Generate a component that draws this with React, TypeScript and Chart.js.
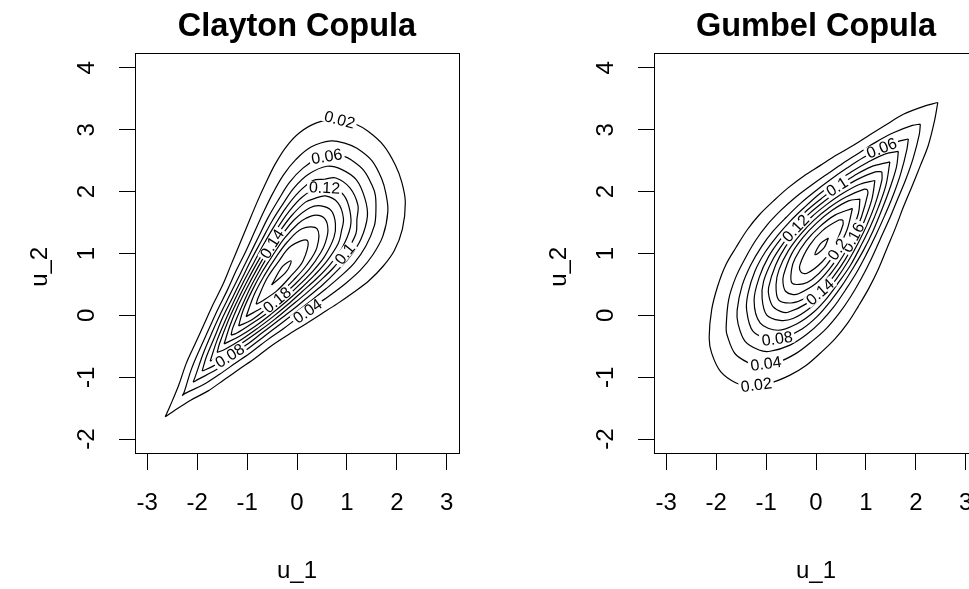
import React, { useEffect, useRef } from 'react';
import { Chart, registerables } from 'chart.js';

Chart.register(...registerables);

const FONT = "'Liberation Sans', Arial, Helvetica, sans-serif";

// Axes
const X_TICKS = [-3, -2, -1, 0, 1, 2, 3];
const Y_TICKS = [-2, -1, 0, 1, 2, 3, 4];
const X_RANGE = [-3.245, 3.245];
const Y_RANGE = [-2.24, 4.24];

// Contour levels (density)
const LEVELS = [0.02, 0.04, 0.06, 0.08, 0.1, 0.12, 0.14, 0.16, 0.18, 0.2, 0.22, 0.24];

// ---- Clayton copula: contour polylines [u_1, u_2] ----
const clayton002 = [
  [-2.64, -1.64], [-2.46, -1.54], [-2.13, -1.37], [-1.78, -1.22], [-1.46, -1.04], [-1.14, -0.86],
  [-0.82, -0.68], [-0.51, -0.49], [-0.19, -0.32], [0.15, -0.15], [0.48, 0.02], [0.81, 0.19],
  [1.13, 0.37], [1.44, 0.56], [1.72, 0.79], [1.95, 1.05], [2.11, 1.39], [2.17, 1.83], [2.1, 2.15],
  [1.97, 2.43], [1.74, 2.74], [1.43, 2.97], [1.15, 3.1], [0.83, 3.17], [0.39, 3.11], [0.05, 2.95],
  [-0.22, 2.72], [-0.44, 2.44], [-0.63, 2.13], [-0.81, 1.81], [-0.98, 1.48], [-1.15, 1.15],
  [-1.32, 0.82], [-1.49, 0.49], [-1.68, 0.18], [-1.86, -0.14], [-2.04, -0.46], [-2.22, -0.78],
  [-2.37, -1.13], [-2.54, -1.46], [-2.64, -1.64],
];
const clayton004 = [
  [-2.3, -1.3], [-2.24, -1.26], [-1.88, -1.12], [-1.55, -0.95], [-1.23, -0.77], [-0.91, -0.59],
  [-0.6, -0.4], [-0.28, -0.22], [0.03, -0.03], [0.35, 0.15], [0.67, 0.33], [0.98, 0.52], [1.27, 0.73],
  [1.52, 0.98], [1.72, 1.28], [1.82, 1.68], [1.78, 1.97], [1.7, 2.2], [1.5, 2.5], [1.2, 2.7],
  [0.97, 2.78], [0.68, 2.82], [0.28, 2.72], [-0.02, 2.52], [-0.27, 2.27], [-0.48, 1.98],
  [-0.67, 1.67], [-0.85, 1.35], [-1.03, 1.03], [-1.22, 0.72], [-1.4, 0.4], [-1.59, 0.09],
  [-1.77, -0.23], [-1.95, -0.55], [-2.12, -0.88], [-2.26, -1.24], [-2.3, -1.3],
];
const clayton006 = [
  [-2.08, -1.08], [-1.97, -1.03], [-1.62, -0.88], [-1.29, -0.71], [-0.97, -0.53], [-0.66, -0.34],
  [-0.35, -0.15], [-0.04, 0.04], [0.27, 0.23], [0.58, 0.43], [0.87, 0.63], [1.15, 0.85], [1.38, 1.12],
  [1.55, 1.45], [1.58, 1.67], [1.57, 1.94], [1.51, 2.09], [1.34, 2.34], [1.09, 2.51], [0.94, 2.57],
  [0.67, 2.58], [0.45, 2.55], [0.12, 2.38], [-0.15, 2.15], [-0.37, 1.87], [-0.58, 1.58],
  [-0.77, 1.27], [-0.96, 0.96], [-1.15, 0.65], [-1.34, 0.34], [-1.53, 0.03], [-1.71, -0.29],
  [-1.88, -0.62], [-2.03, -0.97], [-2.08, -1.08],
];
const clayton008 = [
  [-1.9, -0.9], [-1.68, -0.82], [-1.35, -0.65], [-1.02, -0.48], [-0.71, -0.29], [-0.4, -0.1],
  [-0.09, 0.09], [0.21, 0.29], [0.51, 0.49], [0.79, 0.71], [1.06, 0.95], [1.28, 1.23], [1.41, 1.6],
  [1.36, 1.89], [1.19, 2.19], [0.89, 2.36], [0.6, 2.41], [0.23, 2.28], [-0.06, 2.06], [-0.29, 1.79],
  [-0.51, 1.51], [-0.71, 1.21], [-0.91, 0.91], [-1.1, 0.6], [-1.29, 0.29], [-1.48, -0.02],
  [-1.65, -0.35], [-1.82, -0.68], [-1.9, -0.9],
];
const clayton010 = [
  [-1.74, -0.74], [-1.4, -0.6], [-1.07, -0.43], [-0.75, -0.25], [-0.44, -0.06], [-0.14, 0.14],
  [0.16, 0.34], [0.45, 0.55], [0.73, 0.77], [0.98, 1.02], [1.18, 1.32], [1.2, 1.55], [1.22, 1.78],
  [1.06, 2.06], [0.78, 2.22], [0.55, 2.2], [0.32, 2.18], [0.02, 1.98], [-0.23, 1.73], [-0.45, 1.45],
  [-0.66, 1.16], [-0.86, 0.86], [-1.06, 0.56], [-1.25, 0.25], [-1.43, -0.07], [-1.6, -0.4],
  [-1.74, -0.74],
];
const clayton012 = [
  [-1.6, -0.6], [-1.45, -0.55], [-1.11, -0.39], [-0.79, -0.21], [-0.48, -0.02], [-0.18, 0.18],
  [0.11, 0.39], [0.4, 0.6], [0.67, 0.83], [0.91, 1.1], [1.07, 1.43], [1.06, 1.69], [0.94, 1.94],
  [0.69, 2.06], [0.43, 2.07], [0.1, 1.91], [-0.17, 1.67], [-0.4, 1.4], [-0.61, 1.11], [-0.82, 0.82],
  [-1.02, 0.52], [-1.21, 0.21], [-1.39, -0.11], [-1.55, -0.45], [-1.6, -0.6],
];
const clayton014 = [
  [-1.46, -0.46], [-1.16, -0.34], [-0.83, -0.17], [-0.52, 0.02], [-0.22, 0.22], [0.07, 0.43],
  [0.35, 0.65], [0.61, 0.89], [0.83, 1.17], [0.89, 1.36], [0.93, 1.57], [0.82, 1.82], [0.57, 1.93],
  [0.36, 1.89], [0.17, 1.83], [-0.11, 1.61], [-0.35, 1.35], [-0.57, 1.07], [-0.78, 0.78],
  [-0.98, 0.48], [-1.17, 0.17], [-1.34, -0.16], [-1.46, -0.46],
];
const clayton016 = [
  [-1.32, -0.32], [-1.21, -0.29], [-0.88, -0.12], [-0.56, 0.06], [-0.26, 0.26], [0.03, 0.48],
  [0.3, 0.7], [0.55, 0.95], [0.74, 1.26], [0.77, 1.48], [0.69, 1.69], [0.48, 1.77], [0.26, 1.74],
  [-0.05, 1.55], [-0.3, 1.3], [-0.53, 1.03], [-0.74, 0.74], [-0.94, 0.44], [-1.12, 0.12],
  [-1.29, -0.21], [-1.32, -0.32],
];
const clayton018 = [
  [-1.17, -0.17], [-0.92, -0.08], [-0.61, 0.11], [-0.31, 0.31], [-0.02, 0.52], [0.25, 0.75],
  [0.48, 1.02], [0.57, 1.18], [0.62, 1.38], [0.56, 1.56], [0.38, 1.62], [0.18, 1.57], [0.02, 1.48],
  [-0.25, 1.25], [-0.48, 0.98], [-0.7, 0.7], [-0.9, 0.4], [-1.08, 0.08], [-1.17, -0.17],
];
const clayton020 = [
  [-1.02, -0.02], [-0.65, 0.15], [-0.35, 0.35], [-0.07, 0.57], [0.19, 0.81], [0.4, 1.1], [0.4, 1.4],
  [0.1, 1.4], [-0.19, 1.19], [-0.43, 0.93], [-0.65, 0.65], [-0.85, 0.35], [-1.02, -0.02],
];
const clayton022 = [
  [-0.82, 0.18], [-0.72, 0.22], [-0.4, 0.4], [-0.13, 0.63], [0.12, 0.88], [0.21, 1.21],
  [-0.12, 1.12], [-0.37, 0.87], [-0.6, 0.6], [-0.78, 0.28], [-0.82, 0.18],
];
const clayton024 = [[-0.51, 0.49], [-0.21, 0.71], [-0.12, 0.88], [-0.29, 0.79], [-0.51, 0.49]];

// ---- Gumbel copula: contour polylines [u_1, u_2] ----
const gumbel002 = [
  [2.44, 3.44], [2.13, 3.37], [1.75, 3.25], [1.42, 3.09], [1.08, 2.92], [0.75, 2.75], [0.41, 2.59],
  [0.08, 2.42], [-0.25, 2.25], [-0.56, 2.06], [-0.85, 1.85], [-1.13, 1.63], [-1.38, 1.38],
  [-1.6, 1.1], [-1.81, 0.81], [-1.97, 0.47], [-2.09, 0.09], [-2.14, -0.36], [-2.09, -0.61],
  [-1.91, -0.91], [-1.61, -1.09], [-1.36, -1.14], [-0.91, -1.09], [-0.53, -0.97], [-0.2, -0.81],
  [0.1, -0.6], [0.38, -0.38], [0.63, -0.13], [0.85, 0.15], [1.06, 0.44], [1.25, 0.75], [1.42, 1.08],
  [1.59, 1.41], [1.75, 1.75], [1.92, 2.08], [2.09, 2.42], [2.25, 2.75], [2.37, 3.13], [2.44, 3.44],
];
const gumbel004 = [
  [2.09, 3.09], [1.93, 3.07], [1.55, 2.95], [1.2, 2.8], [0.87, 2.63], [0.54, 2.46], [0.22, 2.28],
  [-0.1, 2.1], [-0.41, 1.91], [-0.7, 1.7], [-0.97, 1.47], [-1.21, 1.21], [-1.42, 0.92], [-1.61, 0.61],
  [-1.75, 0.25], [-1.8, -0.2], [-1.78, -0.32], [-1.62, -0.62], [-1.32, -0.78], [-1.2, -0.8],
  [-0.75, -0.75], [-0.39, -0.61], [-0.08, -0.42], [0.21, -0.21], [0.47, 0.04], [0.7, 0.31],
  [0.91, 0.6], [1.1, 0.9], [1.28, 1.22], [1.46, 1.54], [1.63, 1.87], [1.8, 2.2], [1.95, 2.55],
  [2.07, 2.93], [2.09, 3.09],
];
const gumbel006 = [
  [1.85, 2.85], [1.68, 2.82], [1.3, 2.7], [0.95, 2.55], [0.62, 2.38], [0.3, 2.2], [-0.01, 2.01],
  [-0.31, 1.81], [-0.59, 1.59], [-0.86, 1.36], [-1.1, 1.1], [-1.31, 0.81], [-1.48, 0.48],
  [-1.58, 0.08], [-1.56, -0.14], [-1.42, -0.42], [-1.14, -0.56], [-0.92, -0.58], [-0.52, -0.48],
  [-0.19, -0.31], [0.1, -0.1], [0.36, 0.14], [0.59, 0.41], [0.81, 0.69], [1.01, 0.99], [1.2, 1.3],
  [1.38, 1.62], [1.55, 1.95], [1.7, 2.3], [1.82, 2.68], [1.85, 2.85],
];
const gumbel008 = [
  [1.65, 2.65], [1.39, 2.61], [1.03, 2.47], [0.69, 2.31], [0.36, 2.14], [0.05, 1.95], [-0.24, 1.74],
  [-0.52, 1.52], [-0.78, 1.28], [-1.02, 1.02], [-1.22, 0.72], [-1.36, 0.36], [-1.39, 0.09],
  [-1.26, -0.26], [-0.91, -0.39], [-0.64, -0.36], [-0.28, -0.22], [0.02, -0.02], [0.28, 0.22],
  [0.52, 0.48], [0.74, 0.76], [0.95, 1.05], [1.14, 1.36], [1.31, 1.69], [1.47, 2.03], [1.61, 2.39],
  [1.65, 2.65],
];
const gumbel010 = [
  [1.48, 2.48], [1.1, 2.4], [0.75, 2.25], [0.42, 2.08], [0.11, 1.89], [-0.19, 1.69], [-0.46, 1.46],
  [-0.72, 1.22], [-0.95, 0.95], [-1.13, 0.63], [-1.24, 0.24], [-1.12, -0.12], [-0.76, -0.24],
  [-0.37, -0.13], [-0.05, 0.05], [0.22, 0.28], [0.46, 0.54], [0.69, 0.81], [0.89, 1.11],
  [1.08, 1.42], [1.25, 1.75], [1.4, 2.1], [1.48, 2.48],
];
const gumbel012 = [
  [1.32, 2.32], [1.19, 2.32], [0.81, 2.19], [0.48, 2.03], [0.16, 1.84], [-0.14, 1.64], [-0.41, 1.41],
  [-0.66, 1.16], [-0.88, 0.88], [-1.05, 0.55], [-1.08, 0.28], [-0.99, 0.01], [-0.72, -0.08],
  [-0.46, -0.05], [-0.12, 0.12], [0.16, 0.34], [0.41, 0.59], [0.64, 0.87], [0.84, 1.16],
  [1.03, 1.48], [1.19, 1.81], [1.32, 2.19], [1.32, 2.32],
];
const gumbel014 = [
  [1.18, 2.18], [0.88, 2.12], [0.53, 1.97], [0.21, 1.79], [-0.09, 1.59], [-0.36, 1.36], [-0.61, 1.11],
  [-0.81, 0.81], [-0.95, 0.45], [-0.94, 0.3], [-0.86, 0.14], [-0.7, 0.06], [-0.56, 0.05],
  [-0.19, 0.19], [0.11, 0.4], [0.36, 0.64], [0.59, 0.91], [0.79, 1.21], [0.97, 1.53], [1.12, 1.88],
  [1.18, 2.18],
];
const gumbel016 = [
  [1.03, 2.03], [0.97, 2.04], [0.59, 1.91], [0.26, 1.74], [-0.04, 1.54], [-0.31, 1.31], [-0.55, 1.05],
  [-0.74, 0.74], [-0.8, 0.5], [-0.75, 0.25], [-0.5, 0.2], [-0.26, 0.26], [0.05, 0.45], [0.31, 0.69],
  [0.54, 0.96], [0.74, 1.26], [0.91, 1.59], [1.04, 1.97], [1.03, 2.03],
];
const gumbel018 = [
  [0.88, 1.88], [0.65, 1.85], [0.31, 1.69], [0.01, 1.49], [-0.26, 1.26], [-0.49, 0.99], [-0.65, 0.65],
  [-0.66, 0.52], [-0.61, 0.39], [-0.48, 0.34], [-0.35, 0.35], [-0.01, 0.51], [0.26, 0.74],
  [0.49, 1.01], [0.69, 1.31], [0.85, 1.65], [0.88, 1.88],
];
const gumbel020 = [
  [0.73, 1.73], [0.38, 1.62], [0.07, 1.43], [-0.2, 1.2], [-0.42, 0.92], [-0.49, 0.74], [-0.48, 0.52],
  [-0.26, 0.51], [-0.08, 0.58], [0.2, 0.8], [0.43, 1.07], [0.62, 1.38], [0.73, 1.73],
];
const gumbel022 = [
  [0.54, 1.54], [0.46, 1.54], [0.13, 1.37], [-0.13, 1.13], [-0.32, 0.82], [-0.3, 0.7], [-0.18, 0.68],
  [0.13, 0.87], [0.37, 1.13], [0.54, 1.46], [0.54, 1.54],
];
const gumbel024 = [[0.25, 1.25], [0.09, 1.16], [-0.02, 0.98], [0.16, 1.09], [0.25, 1.25]];

const CLAYTON_CONTOURS = [
  clayton002, clayton004, clayton006, clayton008, clayton010, clayton012,
  clayton014, clayton016, clayton018, clayton020, clayton022, clayton024,
];
const GUMBEL_CONTOURS = [
  gumbel002, gumbel004, gumbel006, gumbel008, gumbel010, gumbel012,
  gumbel014, gumbel016, gumbel018, gumbel020, gumbel022, gumbel024,
];

// Inline contour labels: which level, and roughly where along that contour
const CLAYTON_LABEL_LEVELS = [0.02, 0.06, 0.12, 0.14, 0.1, 0.18, 0.04, 0.08];
const CLAYTON_LABEL_AT = [
  [0.85, 3.15], [0.6, 2.55], [0.55, 2.05], [-0.49, 1.15], [0.95, 1.0], [-0.4, 0.25], [0.2, 0.08], [-1.35, -0.65],
];
const GUMBEL_LABEL_LEVELS = [0.02, 0.04, 0.08, 0.06, 0.1, 0.12, 0.16, 0.14, 0.2];
const GUMBEL_LABEL_AT = [
  [-1.2, -1.1], [-1.0, -0.8], [-0.78, -0.37], [1.39, 2.55], [0.42, 2.08], [-0.41, 1.41], [0.74, 1.26], [0.08, 0.38], [0.43, 1.07],
];

const frame = {
  id: 'frame',
  afterDraw(chart: any) {
    const { ctx, chartArea: a } = chart;
    ctx.save();
    ctx.strokeStyle = '#000';
    ctx.lineWidth = 1;
    ctx.strokeRect(Math.round(a.left) + 0.5, Math.round(a.top) + 0.5, Math.round(a.right - a.left), Math.round(a.bottom - a.top) - 1);
    ctx.restore();
  },
};

function contourLabels(levels: number[], at: number[][]) {
  return {
    id: 'contourLabels',
    afterDatasetsDraw(chart: any) {
      const { ctx } = chart;
      const xs = chart.scales.x;
      const ys = chart.scales.y;
      ctx.save();
      ctx.font = `16px ${FONT}`;
      levels.forEach((level, i) => {
        const di = chart.data.datasets.findIndex((d: any) => d.level === level);
        if (di < 0) return;
        const ds = chart.data.datasets[di].data;
        const pts = ds.map((p: any) => ({ x: xs.getPixelForValue(p.x), y: ys.getPixelForValue(p.y) }));
        const tx = xs.getPixelForValue(at[i][0]);
        const ty = ys.getPixelForValue(at[i][1]);
        let best = { d: Infinity, x: 0, y: 0, ang: 0 };
        for (let k = 0; k < pts.length - 1; k++) {
          const a = pts[k];
          const b = pts[k + 1];
          const vx = b.x - a.x;
          const vy = b.y - a.y;
          const len2 = vx * vx + vy * vy || 1;
          const t = Math.max(0, Math.min(1, ((tx - a.x) * vx + (ty - a.y) * vy) / len2));
          const px = a.x + t * vx;
          const py = a.y + t * vy;
          const d = (px - tx) ** 2 + (py - ty) ** 2;
          if (d < best.d) best = { d, x: px, y: py, ang: Math.atan2(vy, vx) };
        }
        let ang = best.ang;
        if (ang > Math.PI / 2) ang -= Math.PI;
        if (ang < -Math.PI / 2) ang += Math.PI;
        const text = String(level);
        const w = ctx.measureText(text).width;
        ctx.save();
        ctx.translate(best.x, best.y);
        ctx.rotate(ang);
        ctx.fillStyle = '#fff';
        ctx.fillRect(-w / 2 - 2, -6, w + 4, 12);
        ctx.fillStyle = '#000';
        ctx.textAlign = 'center';
        ctx.textBaseline = 'middle';
        ctx.fillText(text, 0, 1);
        ctx.restore();
      });
      ctx.restore();
    },
  };
}

function makeConfig(title: string, contours: number[][][], labelLevels: number[], labelAt: number[][]): any {
  return {
    type: 'scatter',
    data: {
      datasets: contours.map((pts, i) => ({
        level: LEVELS[i],
        data: pts.map(([x, y]) => ({ x, y })),
        showLine: true,
        borderColor: '#000',
        borderWidth: 1.2,
        pointRadius: 0,
        tension: 0.35,
        fill: false,
      })),
    },
    options: {
      animation: false,
      responsive: false,
      devicePixelRatio: 1,
      events: [],
      layout: { padding: { left: 0, right: 59, top: 0, bottom: 0 } },
      plugins: {
        legend: { display: false },
        tooltip: { enabled: false },
        title: {
          display: true,
          text: title,
          color: '#000',
          fullSize: false,
          font: { family: FONT, size: 32.5, weight: 'bold', lineHeight: 1.2 },
          padding: { top: 7.4, bottom: 6.6 },
        },
      },
      scales: {
        x: {
          type: 'linear',
          bounds: 'data',
          min: X_RANGE[0],
          max: X_RANGE[1],
          afterBuildTicks: (s: any) => { s.ticks = X_TICKS.map((v) => ({ value: v })); },
          afterFit: (s: any) => { s.height = 135; },
          grid: { drawOnChartArea: false, drawTicks: true, tickLength: 16, color: '#000', lineWidth: 1 },
          border: { display: false },
          ticks: {
            autoSkip: false, maxRotation: 0, padding: 21, color: '#000',
            font: { family: FONT, size: 24, lineHeight: 1 },
            callback: (v: number) => String(v),
          },
          title: {
            display: true, text: 'u_1', color: '#000',
            font: { family: FONT, size: 24, lineHeight: 1 },
            padding: { top: 0, bottom: 6 },
          },
        },
        y: {
          type: 'linear',
          bounds: 'data',
          min: Y_RANGE[0],
          max: Y_RANGE[1],
          afterBuildTicks: (s: any) => { s.ticks = Y_TICKS.map((v) => ({ value: v })); },
          afterFit: (s: any) => { s.width = 135; },
          grid: { drawOnChartArea: false, drawTicks: true, tickLength: 16, color: '#000', lineWidth: 1 },
          border: { display: false },
          ticks: {
            autoSkip: false, minRotation: 90, maxRotation: 90, crossAlign: 'center', padding: 21, color: '#000',
            font: { family: FONT, size: 24, lineHeight: 1 },
            callback: (v: number) => String(v),
          },
          title: {
            display: true, text: 'u_2    ', color: '#000',
            font: { family: FONT, size: 24, lineHeight: 1 },
            padding: { top: 28, bottom: 0 },
          },
        },
      },
    },
    plugins: [frame, contourLabels(labelLevels, labelAt)],
  };
}

function Panel(props: { title: string; contours: number[][][]; labelLevels: number[]; labelAt: number[][]; left: number }) {
  const ref = useRef<HTMLCanvasElement>(null);
  useEffect(() => {
    const chart = new Chart(ref.current as HTMLCanvasElement, makeConfig(props.title, props.contours, props.labelLevels, props.labelAt));
    return () => chart.destroy();
  }, []);
  return (
    <canvas
      ref={ref}
      width={518}
      height={589}
      style={{ position: 'absolute', left: props.left, top: 0, width: 518, height: 589, display: 'block' }}
    />
  );
}

export default function App() {
  return (
    <div style={{ position: 'fixed', left: 0, top: 0, width: 969, height: 589, overflow: 'hidden', background: '#fff' }}>
      <Panel title="Clayton Copula" contours={CLAYTON_CONTOURS} labelLevels={CLAYTON_LABEL_LEVELS} labelAt={CLAYTON_LABEL_AT} left={0} />
      <Panel title="Gumbel Copula" contours={GUMBEL_CONTOURS} labelLevels={GUMBEL_LABEL_LEVELS} labelAt={GUMBEL_LABEL_AT} left={519} />
    </div>
  );
}
